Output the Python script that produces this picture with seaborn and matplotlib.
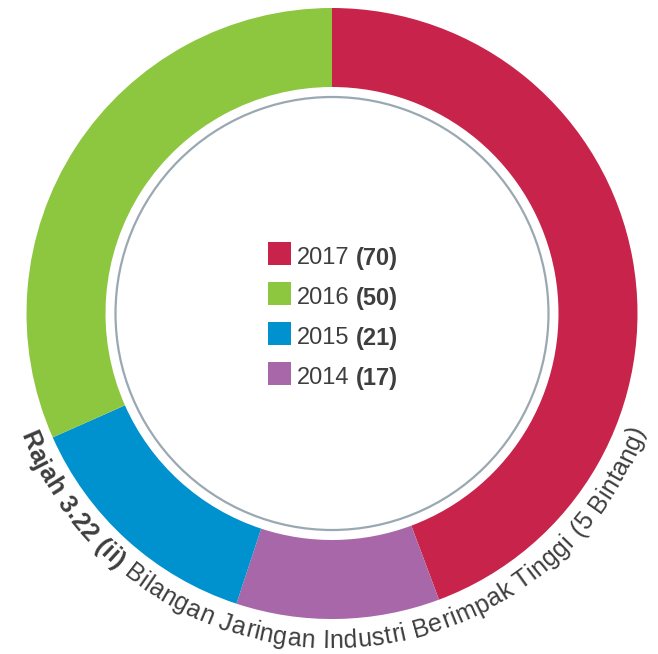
import numpy as np
import matplotlib
matplotlib.use("Agg")
import matplotlib.pyplot as plt
import seaborn as sns
from matplotlib.patches import Rectangle, Circle
from matplotlib.font_manager import FontProperties
from matplotlib.textpath import TextPath

# Data
years = ["2017", "2016", "2015", "2014"]
counts = [70, 50, 21, 17]
year_colors = ["#C8234A", "#8DC63F", "#0091CF", "#A767A8"]
ring_order = ["2017", "2014", "2015", "2016"]  # clockwise from 12 o'clock
caption_bold = "Rajah 3.22 (ii)"
caption_rest = " Bilangan Jaringan Industri Berimpak Tinggi (5 Bintang)"

sns.set_theme(style="white")
plt.rcParams["font.family"] = ["Liberation Sans", "DejaVu Sans"]

W, H = 658, 654
fig = plt.figure(figsize=(W / 100, H / 100), dpi=100)
ax = fig.add_axes([0, 0, 1, 1])

cx, cy = 332.0, H - 313.5
R_out, R_in = 305.5, 226.5
TEXT = "#3E3E3E"

count_of = dict(zip(years, counts))
color_of = dict(zip(years, year_colors))
ax.pie([count_of[y] for y in ring_order],
       colors=[color_of[y] for y in ring_order],
       startangle=90, counterclock=False,
       radius=R_out, center=(cx, cy),
       wedgeprops=dict(width=R_out - R_in, linewidth=0))
ax.add_patch(Circle((cx, cy), 216.5, fill=False, ec="#9AA8B2", lw=1.6))

ax.set_xlim(0, W)
ax.set_ylim(0, H)
ax.set_aspect("equal")
ax.axis("off")

renderer = fig.canvas.get_renderer()


def text_advance(s, prop):
    w1, _, _ = renderer.get_text_width_height_descent("H" + s + "H", prop, ismath=False)
    w0, _, _ = renderer.get_text_width_height_descent("HH", prop, ismath=False)
    return w1 - w0


# Legend in the centre
leg_reg = FontProperties(family="Liberation Sans", size=17)
leg_bold = FontProperties(family="Liberation Sans", size=17, weight="bold")
for i, y in enumerate(years):
    yc = H - (253.5 + 40 * i)
    ax.add_patch(Rectangle((268, yc - 11.5), 23, 23, color=color_of[y], lw=0))
    base = yc - 11
    ax.text(297, base, y, fontproperties=leg_reg, color=TEXT, va="baseline", ha="left")
    off = text_advance(y + " ", leg_reg)
    ax.text(297 + off, base, f"({count_of[y]})", fontproperties=leg_bold,
            color=TEXT, va="baseline", ha="left")

# Caption set letter by letter along the outside of the ring
PT = 18
S = PT * 100 / 72  # font size in pixels
cap_reg = FontProperties(family="Liberation Sans", size=PT)
cap_bold = FontProperties(family="Liberation Sans", size=PT, weight="bold")


def glyph_metrics(c, prop):
    """Advance width and ink-centre offset of one glyph, in pixels."""
    w1 = TextPath((0, 0), "H" + c + "H", size=S, prop=prop).get_extents().width
    w0 = TextPath((0, 0), "HH", size=S, prop=prop).get_extents().width
    adv = w1 - w0
    if c == " ":
        return adv, adv / 2
    ext = TextPath((0, 0), c, size=S, prop=prop).get_extents()
    return adv, ext.x0 + ext.width / 2


tracking = 0.5
chars = [(c, cap_bold) for c in caption_bold] + [(c, cap_reg) for c in caption_rest]
metrics = [glyph_metrics(c, p) for c, p in chars]
R_b = 334.5
total = sum(m[0] + tracking for m in metrics)
theta0 = np.deg2rad(270.4) - total / (2 * R_b)

pen = 0.0
for (c, p), (adv, mid) in zip(chars, metrics):
    if c != " ":
        th = theta0 + (pen + tracking / 2 + mid) / R_b
        ax.text(cx + R_b * np.cos(th), cy + R_b * np.sin(th), c,
                fontproperties=p, color=TEXT, ha="center", va="baseline",
                rotation=np.rad2deg(th) + 90, rotation_mode="anchor")
    pen += adv + tracking

fig.savefig("out.png", dpi=100)
